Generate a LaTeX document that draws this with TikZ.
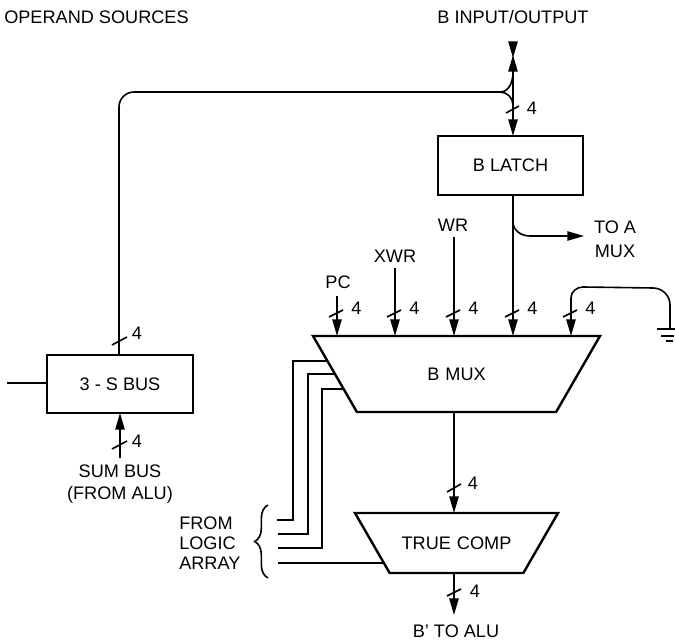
\documentclass[tikz,border=0pt]{standalone}
\usepackage{fontspec}
\setmainfont{Liberation Sans}
\usetikzlibrary{arrows.meta, calc, decorations.pathreplacing, shapes.geometric}

\begin{document}
\begin{tikzpicture}[
    x=0.75pt,y=-0.75pt,
    block/.style={draw,line width=1.8pt,inner sep=0pt,outer sep=0pt,align=center,font=\fontsize{13.6}{15}\selectfont},
    muxblock/.style={block,trapezium,shape border rotate=180,trapezium angle=60},
    label/.style={inner sep=0pt,font=\fontsize{13.6}{15}\selectfont,align=center},
    wire/.style={line width=1.2pt},
    bus/.style={wire,-{Triangle[length=12.5pt,width=7pt]}},
    slash/.style={line width=1.2pt}
  ]
    \useasboundingbox (0,0) rectangle (675,641);

    \node[label,anchor=west] (operand) at (4,17) {OPERAND SOURCES};
    \node[label] (bio) at (513,17) {B INPUT/OUTPUT};

    % blocks
    \node[block,minimum width=108.75pt,minimum height=44.25pt] (latch) at (510.5,165.5) {B LATCH};
    \node[block,minimum width=109.5pt,minimum height=43.5pt] (sbus) at (120,384) {3 - S BUS};
    \node[muxblock,text width=149.4pt,text height=33.5pt,text depth=23.5pt] (bmux) at (456.5,374) {B MUX};
    \node[muxblock,text width=100.3pt,text height=27.5pt,text depth=17.5pt] (tcomp) at (456.5,543) {TRUE COMP};

    % B input/output
    \coordinate (biotop) at (513,42);
    \coordinate (biotip) at (513,58);
    \coordinate (bioup) at (513,55);
    \coordinate (biobase) at (513,72);
    \coordinate (biojoin) at (500,92);
    \draw[bus] (biotop) -- (biotip);
    \draw[bus] (biobase) -- (bioup);
    \draw[bus] (513,90) -- (latch.north -| 513,0);
    \draw[wire] (biobase) to[out=-90,in=0] (biojoin);
    \draw[wire] (biobase) -- (513,90);
    \draw[wire] (biojoin) to[out=0,in=90] (513,105);
    \draw[wire] (sbus.north -| 119,0) -- (119,107) to[out=90,in=180] (134,92) -- (biojoin);
    \coordinate (sbusin) at (7,383);
    \draw[wire] (sbusin) -- (sbusin -| sbus.west);
    \draw[slash] (506,113) -- (519,106);
    \node[label] (fourlatch) at (532,108) {4};

    % inputs of the mux
    \foreach \xpos/\ytop/\name in {337/296/pc,395/268/xwr,454/237/wr,513/195/latchin,571/298/gnd} {
      \draw[bus] (\xpos,\ytop) -- (bmux.north -| \xpos,0);
      \draw[slash] (\xpos-8,317) -- (\xpos+6,310);
      \node[label] (four\name) at (\xpos+19.5,308) {4};
    }
    \node[label] (pclabel) at (338,282) {PC};
    \node[label] (xwrlabel) at (395,256) {XWR};
    \node[label] (wrlabel) at (453,225) {WR};

    \node[label] (toamux) at (615,239) {TO A\\[3pt]MUX};
    \coordinate (toatip) at (584,236);
    \draw[bus] (513,222) to[out=-90,in=180] (530,236) -- (toatip);

    % ground
    \draw[wire] (571,298) to[out=90,in=180] (583,287) -- (653,288) to[out=0,in=90] (670,305) -- (670,329);
    \draw[wire] (657,329) -- (675,329);
    \draw[wire] (661,336) -- (674,336);
    \draw[wire] (666,341) -- (673,341);

    % from logic array
    \coordinate (selone) at ($(bmux.bottom right corner)!0.33!(bmux.top right corner)$);
    \coordinate (seltwo) at ($(bmux.bottom right corner)!0.5!(bmux.top right corner)$);
    \coordinate (selthree) at ($(bmux.bottom right corner)!0.7!(bmux.top right corner)$);
    \coordinate (selfour) at ($(tcomp.bottom right corner)!0.83!(tcomp.top right corner)$);
    \draw[wire] (selone) -| (293,520) -- (277,520);
    \draw[wire] (seltwo) -| (308,534) -- (278,534);
    \draw[wire] (selthree) -| (322,548) -- (278,548);
    \draw[wire] (selfour) -- (selfour -| 278,0);
    \node[label,align=left,anchor=west] (logic) at (179,543) {FROM\\[0pt]LOGIC\\[0pt]ARRAY};
    \draw[wire,decorate,decoration={brace,amplitude=10pt,mirror}] (268,505) -- (268,578);

    % true comp
    \draw[bus] (bmux.south -| 454,0) -- (tcomp.north -| 454,0);
    \draw[slash] (447,492) -- (461,484);
    \node[label] (fourtc) at (473,483) {4};
    \draw[bus] (tcomp.south -| 454,0) -- (454,615);
    \draw[slash] (447,596) -- (461,589);
    \node[label] (fourout) at (475,591) {4};
    \node[label] (balu) at (456,631) {B' TO ALU};

    % 3-s bus
    \draw[slash] (112,345) -- (127,337);
    \node[label] (foursb) at (137,333) {4};
    \draw[bus] (120,458) -- (sbus.south -| 120,0);
    \draw[slash] (112,449) -- (127,441);
    \node[label] (foursum) at (137,441) {4};
    \node[label] (sum) at (120,484) {SUM BUS\\[1.5pt](FROM ALU)};
  \end{tikzpicture}
\end{document}
